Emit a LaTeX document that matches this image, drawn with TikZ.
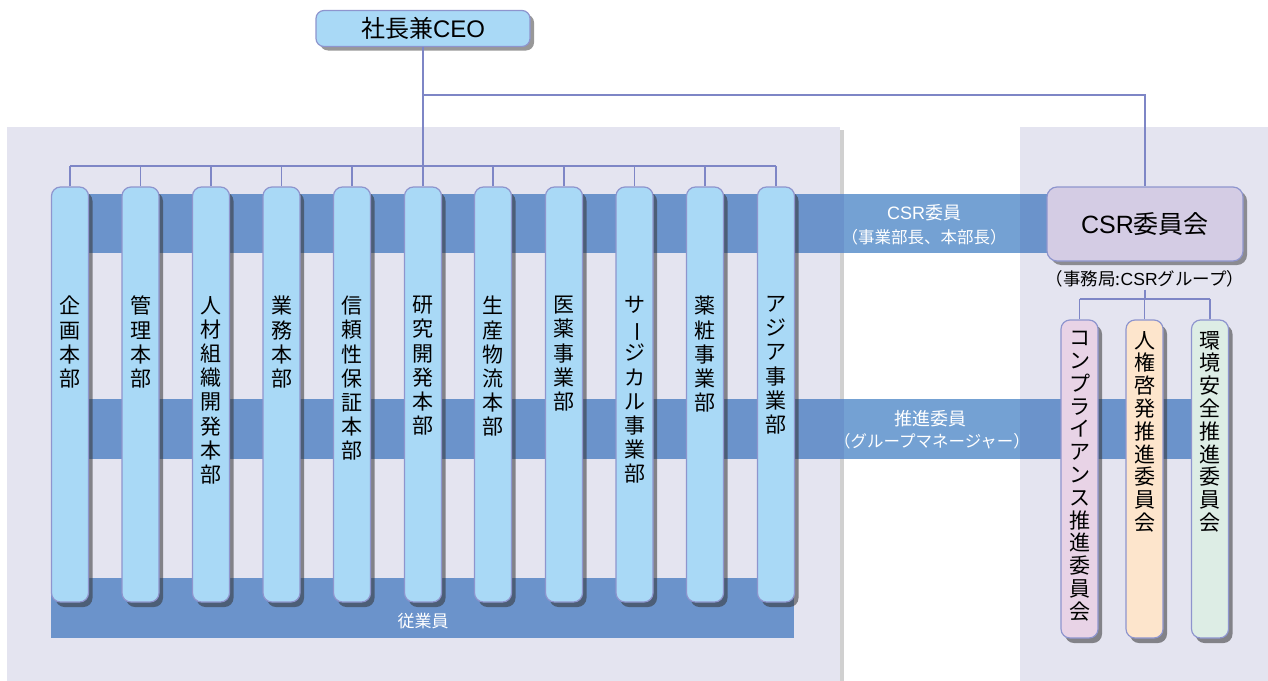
\documentclass[tikz,border=0pt]{standalone}
\usepackage{fontspec}
\setmainfont{Noto Sans CJK JP}
\newfontfamily\latf{Liberation Sans}
\usepackage{graphicx}
\usetikzlibrary{shadows}
\definecolor{panel}{HTML}{E4E4F0}
\definecolor{band}{HTML}{6B93CB}
\definecolor{bandlt}{HTML}{74A1D3}
\definecolor{colblue}{HTML}{A9D9F6}
\definecolor{edge}{HTML}{8E95CE}
\definecolor{csrc}{HTML}{D4CCE4}
\definecolor{pinkc}{HTML}{E8D3E6}
\definecolor{peach}{HTML}{FDE5CC}
\definecolor{mint}{HTML}{DDEDE5}
\definecolor{conn}{HTML}{7E86C6}
\newcommand{\vbar}{\rotatebox[origin=c]{-90}{ー}}
\begin{document}
\begin{tikzpicture}[x=1pt,y=-1pt,
  colbox/.style={draw=edge, line width=1.2pt, rounded corners=9pt, minimum width=37pt, inner sep=0pt,
    drop shadow={shadow xshift=4pt, shadow yshift=-5pt, opacity=0.55, fill=black!80}},
  leftcol/.style={colbox, fill=colblue, minimum height=415pt},
  rightcol/.style={colbox, minimum height=318pt},
  vtxt/.style={anchor=north, align=center, inner sep=0pt, font=\fontsize{21}{24.2}\selectfont, text=black},
  rvtxt/.style={vtxt, font=\fontsize{21}{22.8}\selectfont},
  conline/.style={draw=conn, line width=1.2pt},
  bandtxt/.style={text=white, inner sep=0pt},
  panelfill/.style={fill=panel, drop shadow={shadow xshift=4pt, shadow yshift=-3pt, opacity=0.3, fill=black!60}}
]
\useasboundingbox (0,0) rectangle (1268,680);
\fill[white] (0,0) rectangle (1268,680);
% panels
\fill[panelfill] (7,127) rectangle (840,690);
\fill[panelfill] (1020,127) rectangle (1280,690);
% bands
\fill[band] (51,194) rectangle (1050,253);
\fill[bandlt] (844,194) rectangle (1020,253);
\fill[band] (51,399) rectangle (1195,459);
\fill[bandlt] (844,399) rectangle (1020,459);
\fill[band] (51,578) rectangle (794,638);
% band labels
\node[bandtxt, font=\fontsize{18}{20}\selectfont] (lab1a) at (924,213) {{\latf CSR}委員};
\node[bandtxt, font=\fontsize{16.5}{20}\selectfont] (lab1b) at (924,237) {（事業部長、本部長）};
\node[bandtxt, font=\fontsize{18}{20}\selectfont] (lab2a) at (930,419) {推進委員};
\node[bandtxt, font=\fontsize{16.5}{20}\selectfont] (lab2b) at (932,441) {（グループマネージャー）};
\node[bandtxt, font=\fontsize{17}{20}\selectfont] (emp) at (423,621) {従業員};
% CEO
\node[draw=edge, line width=1.2pt, fill=colblue, rounded corners=8pt, minimum width=214pt, minimum height=36pt,
  font=\fontsize{24}{26}\selectfont, text=black,
  drop shadow={shadow xshift=4pt, shadow yshift=-4pt, opacity=0.5, fill=black!80}] (ceo) at (423,28.5) {社長兼{\latf CEO}};
% CSR committee
\node[draw=edge, line width=1.2pt, fill=csrc, rounded corners=10pt, minimum width=196pt, minimum height=74pt,
  font=\fontsize{25}{28}\selectfont, text=black,
  drop shadow={shadow xshift=4pt, shadow yshift=-4pt, opacity=0.5, fill=black!80}] (csr) at (1145,224) {{\latf CSR}委員会};
\node[font=\fontsize{17.5}{20}\selectfont, inner sep=2pt, text=black] (sec) at (1145,279) {（事務局:{\latf CSR}グループ）};
% connectors
\coordinate (busL) at (70,166);
\coordinate (busR) at (776,166);
\coordinate (br) at (423,95);
\coordinate (rbusL) at (1079.5,299);
\coordinate (rbusR) at (1210,299);
\draw[conline] (ceo.south) -- (ceo.south |- busL);
\draw[conline] (busL) -- (busR);
\draw[conline] (br) -- (br -| csr.north) -- (csr.north);
\draw[conline] (sec.south) -- (sec.south |- rbusL);
\draw[conline] (rbusL) -- (rbusR);
% left columns
\foreach \i/\x in {1/70,2/140.5,3/211,4/281.5,5/352,6/423,7/493,8/564,9/634.5,10/705,11/776}{
  \node[leftcol] (c\i) at (\x,394.5) {};
  \draw[conline] (c\i.north) -- (c\i.north |- busL);
}
\node[vtxt] (t1) at (c1.north |- 0,296) {企\\画\\本\\部};
\node[vtxt] (t2) at (c2.north |- 0,296) {管\\理\\本\\部};
\node[vtxt] (t3) at (c3.north |- 0,296) {人\\材\\組\\織\\開\\発\\本\\部};
\node[vtxt] (t4) at (c4.north |- 0,296) {業\\務\\本\\部};
\node[vtxt] (t5) at (c5.north |- 0,296) {信\\頼\\性\\保\\証\\本\\部};
\node[vtxt] (t6) at (c6.north |- 0,296) {研\\究\\開\\発\\本\\部};
\node[vtxt] (t7) at (c7.north |- 0,296) {生\\産\\物\\流\\本\\部};
\node[vtxt] (t8) at (c8.north |- 0,296) {医\\薬\\事\\業\\部};
\node[vtxt] (t9) at (c9.north |- 0,296) {サ\\\vbar\\ジ\\カ\\ル\\事\\業\\部};
\node[vtxt] (t10) at (c10.north |- 0,296) {薬\\粧\\事\\業\\部};
\node[vtxt] (t11) at (c11.north |- 0,296) {ア\\ジ\\ア\\事\\業\\部};
% right columns
\node[rightcol, fill=pinkc] (r1) at (1079.5,479) {};
\node[rightcol, fill=peach] (r2) at (1144.5,479) {};
\node[rightcol, fill=mint] (r3) at (1210,479) {};
\draw[conline] (r1.north) -- (r1.north |- rbusL);
\draw[conline] (r2.north) -- (r2.north |- rbusL);
\draw[conline] (r3.north) -- (r3.north |- rbusL);
\node[rvtxt] (u1) at (r1.north |- 0,331) {コ\\ン\\プ\\ラ\\イ\\ア\\ン\\ス\\推\\進\\委\\員\\会};
\node[rvtxt] (u2) at (r2.north |- 0,331) {人\\権\\啓\\発\\推\\進\\委\\員\\会};
\node[rvtxt] (u3) at (r3.north |- 0,331) {環\\境\\安\\全\\推\\進\\委\\員\\会};
\end{tikzpicture}
\end{document}
